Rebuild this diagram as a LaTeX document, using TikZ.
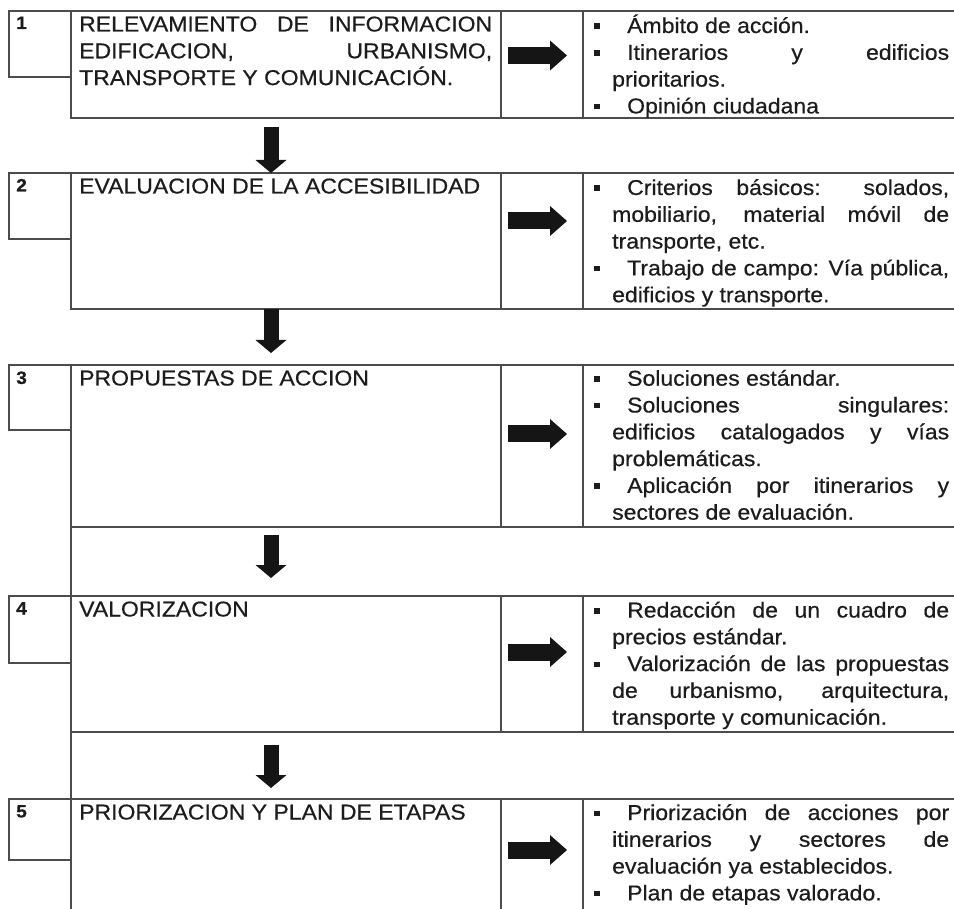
\documentclass[tikz,border=0pt]{standalone}
\usepackage{fontspec}
\setmainfont[FakeStretch=1.07,FakeBold=0.5]{Liberation Sans}
\usetikzlibrary{arrows.meta}
\definecolor{linec}{HTML}{4C4C4C}
\definecolor{txtc}{HTML}{1C1C1C}
\definecolor{arrc}{HTML}{151515}
\newcommand{\blt}{\leavevmode\llap{\raisebox{4pt}{\rule{5.5pt}{5.5pt}}\hspace{12.5pt}}\hspace*{15pt}}
\newcommand{\JustL}[1]{\makebox[413pt][s]{#1}}
\newcommand{\JustR}[1]{\makebox[337pt][s]{#1}}
\newcommand{\JustB}[1]{\makebox[322pt][s]{#1}}
\tikzset{
  cellbox/.style={draw=linec, line width=1.5pt, inner sep=0pt, outer sep=0pt, anchor=north west},
  numtxt/.style={anchor=base west, inner sep=0pt, font=\fontsize{18}{22}\selectfont\bfseries},
  celltxt/.style={anchor=base west, inner sep=0pt},
  harrow/.style={draw=arrc, line width=17pt, -{Triangle[length=17pt,width=30pt,line width=0pt]}},
  varrow/.style={draw=arrc, line width=15pt, -{Triangle[length=13pt,width=31pt,line width=0pt]}}
}
\begin{document}
\begin{tikzpicture}[x=1pt, y=-1pt, font=\fontsize{21.5}{26.8}\selectfont, text=txtc]
\useasboundingbox (0,0) rectangle (954,909);
\clip (0,0) rectangle (954,909);
\fill[white] (0,0) rectangle (954,909);

% ---------- Row 1 ----------
\node[cellbox, minimum width=62pt, minimum height=66pt] (n1) at (9,11) {};
\node[cellbox, minimum width=430pt, minimum height=107pt] (c1) at (71,11) {};
\node[cellbox, minimum width=82pt, minimum height=107pt] (m1) at (501,11) {};
\node[cellbox, minimum width=380pt, minimum height=107pt] (b1) at (583,11) {};
\node[numtxt] (k1) at (16,29) {1};
\node[celltxt] (t1) at (79,31.5) {\parbox[t]{413pt}{\JustL{RELEVAMIENTO DE INFORMACION}\\
\JustL{EDIFICACION, URBANISMO,}\\
TRANSPORTE Y COMUNICACIÓN.}};
\node[celltxt] (l1) at (612,33) {\parbox[t]{337pt}{\blt Ámbito de acción.\\
\blt\JustB{Itinerarios y edificios}\\
prioritarios.\\
\blt Opinión ciudadana}};

% ---------- Row 2 ----------
\node[cellbox, minimum width=62pt, minimum height=66pt] (n2) at (9,173) {};
\node[cellbox, minimum width=430pt, minimum height=136pt] (c2) at (71,173) {};
\node[cellbox, minimum width=82pt, minimum height=136pt] (m2) at (501,173) {};
\node[cellbox, minimum width=380pt, minimum height=136pt] (b2) at (583,173) {};
\node[numtxt] (k2) at (16,191.5) {2};
\node[celltxt] (t2) at (79,193.5) {\parbox[t]{413pt}{EVALUACION DE LA ACCESIBILIDAD}};
\node[celltxt] (l2) at (612,195) {\parbox[t]{337pt}{\blt\JustB{Criterios básicos: solados,}\\
\JustR{mobiliario, material móvil de}\\
transporte, etc.\\
\blt\JustB{Trabajo de campo: Vía pública,}\\
edificios y transporte.}};

% ---------- Row 3 ----------
\node[cellbox, minimum width=62pt, minimum height=65pt] (n3) at (9,365) {};
\node[cellbox, minimum width=430pt, minimum height=162pt] (c3) at (71,365) {};
\node[cellbox, minimum width=82pt, minimum height=162pt] (m3) at (501,365) {};
\node[cellbox, minimum width=380pt, minimum height=162pt] (b3) at (583,365) {};
\node[numtxt] (k3) at (16,384) {3};
\node[celltxt] (t3) at (79,385.5) {\parbox[t]{413pt}{PROPUESTAS DE ACCION}};
\node[celltxt] (l3) at (612,385.7) {\parbox[t]{337pt}{\blt Soluciones estándar.\\
\blt\JustB{Soluciones singulares:}\\
\JustR{edificios catalogados y vías}\\
problemáticas.\\
\blt\JustB{Aplicación por itinerarios y}\\
sectores de evaluación.}};

% gap cell 3-4
\node[cellbox, minimum width=892pt, minimum height=69pt] (g3) at (71,527) {};

% ---------- Row 4 ----------
\node[cellbox, minimum width=62pt, minimum height=67pt] (n4) at (9,596) {};
\node[cellbox, minimum width=430pt, minimum height=136pt] (c4) at (71,596) {};
\node[cellbox, minimum width=82pt, minimum height=136pt] (m4) at (501,596) {};
\node[cellbox, minimum width=380pt, minimum height=136pt] (b4) at (583,596) {};
\node[numtxt] (k4) at (16,614.5) {4};
\node[celltxt] (t4) at (79,616.5) {\parbox[t]{413pt}{VALORIZACION}};
\node[celltxt] (l4) at (612,617.5) {\parbox[t]{337pt}{\blt\JustB{Redacción de un cuadro de}\\
precios estándar.\\
\blt\JustB{Valorización de las propuestas}\\
\JustR{de urbanismo, arquitectura,}\\
transporte y comunicación.}};

% gap cell 4-5
\node[cellbox, minimum width=892pt, minimum height=67pt] (g4) at (71,732) {};

% ---------- Row 5 ----------
\node[cellbox, minimum width=62pt, minimum height=61pt] (n5) at (9,799) {};
\node[cellbox, minimum width=430pt, minimum height=140pt] (c5) at (71,799) {};
\node[cellbox, minimum width=82pt, minimum height=140pt] (m5) at (501,799) {};
\node[cellbox, minimum width=380pt, minimum height=140pt] (b5) at (583,799) {};
\node[numtxt] (k5) at (16,817.5) {5};
\node[celltxt] (t5) at (79,819.5) {\parbox[t]{413pt}{PRIORIZACION Y PLAN DE ETAPAS}};
\node[celltxt] (l5) at (612,820) {\parbox[t]{337pt}{\blt\JustB{Priorización de acciones por}\\
\JustR{itinerarios y sectores de}\\
evaluación ya establecidos.\\
\blt Plan de etapas valorado.}};

% ---------- horizontal arrows ----------
\coordinate (h1a) at (508,55.5);  \coordinate (h1b) at (567,55.5);
\coordinate (h2a) at (508,221);   \coordinate (h2b) at (567,221);
\coordinate (h3a) at (508,434);   \coordinate (h3b) at (567,434);
\coordinate (h4a) at (508,652);   \coordinate (h4b) at (567,652);
\coordinate (h5a) at (508,850);   \coordinate (h5b) at (567,850);
\draw[harrow] (h1a) -- (h1b);
\draw[harrow] (h2a) -- (h2b);
\draw[harrow] (h3a) -- (h3b);
\draw[harrow] (h4a) -- (h4b);
\draw[harrow] (h5a) -- (h5b);

% ---------- vertical arrows ----------
\coordinate (v1a) at (271,127);
\coordinate (v2b) at (271,353);
\coordinate (v3a) at (271,535);
\coordinate (v3b) at (271,578);
\coordinate (v4a) at (271,745);
\coordinate (v4b) at (271,788);
\draw[varrow] (v1a) -- (v1a |- c2.north);
\draw[varrow] (v2b |- c2.south) -- (v2b);
\draw[varrow] (v3a) -- (v3b);
\draw[varrow] (v4a) -- (v4b);
\end{tikzpicture}
\end{document}
